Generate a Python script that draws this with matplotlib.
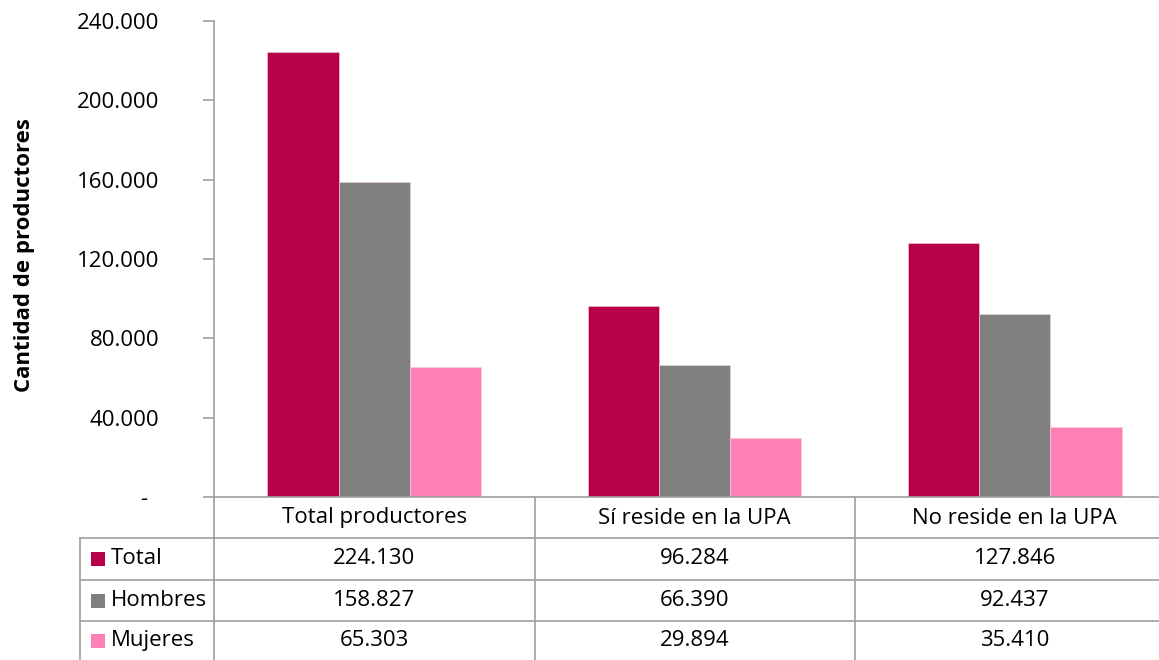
import matplotlib
matplotlib.use("Agg")
import matplotlib.pyplot as plt
from matplotlib.lines import Line2D
from matplotlib.patches import Rectangle
import matplotlib.transforms as mtransforms

plt.rcParams["font.family"] = ["Open Sans", "DejaVu Sans"]

# Datos
categorias = ["Total productores", "Sí reside en la UPA", "No reside en la UPA"]
series = ["Total", "Hombres", "Mujeres"]
total = [224130, 96284, 127846]
hombres = [158827, 66390, 92437]
mujeres = [65303, 29894, 35410]
valores = [total, hombres, mujeres]
colores = ["#B80048", "#808080", "#FF80B4"]
yticks = [0, 40000, 80000, 120000, 160000, 200000, 240000]

W, H = 1159, 660
fs = 16
fig = plt.figure(figsize=(W / 100, H / 100), dpi=100)

# ejes en pixeles (el eje se sale por la derecha como en el original)
ax = fig.add_axes([214 / W, 1 - 497 / H, 961 / W, 476 / H])

ancho = 0.222
for k, (nombre, vals, col) in enumerate(zip(series, valores, colores)):
    xs = [i + (k - 1) * ancho for i in range(len(categorias))]
    ax.bar(xs, vals, width=ancho, color=col, edgecolor="#F2D0DC", linewidth=0.4, zorder=2)

ax.set_xlim(-0.5, len(categorias) - 0.5)
ax.set_ylim(0, 240000)

gris = "#A0A0A0"
for s in ["top", "right"]:
    ax.spines[s].set_visible(False)
for s in ["left", "bottom"]:
    ax.spines[s].set_color(gris)
    ax.spines[s].set_linewidth(1.2)

ax.set_xticks([])
ax.set_yticks(yticks)
etiquetas = ["-  " if v == 0 else f"{v:,}".replace(",", ".") for v in yticks]
ax.set_yticklabels(etiquetas)
ax.tick_params(axis="y", length=8, width=1.2, color=gris, pad=31.5, labelsize=fs)

fig.text(25 / W, 1 - 255 / H, "Cantidad de productores", rotation=90,
         fontsize=fs, fontweight="bold", ha="center", va="center")


# tabla de datos debajo del grafico
def linea(x0, y0, x1, y1):
    fig.add_artist(Line2D([x0 / W, x1 / W], [1 - y0 / H, 1 - y1 / H],
                          color=gris, linewidth=1.2, transform=fig.transFigure))


filas_y = [497, 538, 580, 621, 661]
for y in filas_y[1:]:
    linea(80, y, 1175, y)
linea(80, 538, 80, 661)
for x in [214, 535, 855]:
    linea(x, 497, x, 661)

trans = mtransforms.blended_transform_factory(ax.transData, fig.transFigure)
for i, cat in enumerate(categorias):
    fig.text(i, 1 - 518 / H, cat, transform=trans, ha="center", va="center", fontsize=fs)

centros = [559, 600.5, 640.5]
for k, (nombre, vals, col) in enumerate(zip(series, valores, colores)):
    yc = centros[k]
    fig.add_artist(Rectangle((91 / W, 1 - (yc + 7) / H), 14 / W, 14 / H,
                             facecolor=col, edgecolor="none", transform=fig.transFigure))
    fig.text(111 / W, 1 - yc / H, nombre, ha="left", va="center", fontsize=fs)
    for i, v in enumerate(vals):
        fig.text(i, 1 - yc / H, f"{v:,}".replace(",", "."), transform=trans,
                 ha="center", va="center", fontsize=fs)

fig.savefig("out.png", dpi=100)
